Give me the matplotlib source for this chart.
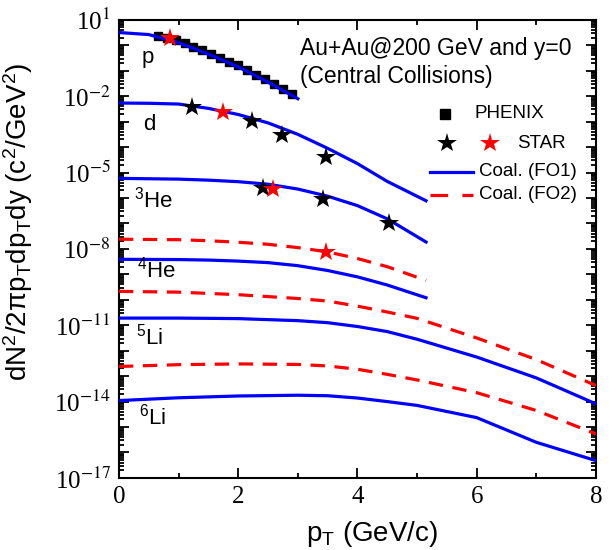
import numpy as np
import matplotlib
matplotlib.use('Agg')
import matplotlib.pyplot as plt
from matplotlib.ticker import LogLocator, NullFormatter

plt.rcParams['font.family'] = ['Liberation Sans', 'DejaVu Sans']
plt.rcParams['mathtext.fontset'] = 'custom'
plt.rcParams['mathtext.rm'] = 'Liberation Sans'
plt.rcParams['mathtext.it'] = 'Liberation Sans:italic'
plt.rcParams['mathtext.default'] = 'rm'

# --- data (log10 of yield) ---
# coalescence FO1 (blue solid)
p_fo1_pt = [0, 0.5, 1.0, 1.5, 2.0, 2.5, 3.0]
p_fo1 = [0.50, 0.42, 0.10, -0.35, -0.85, -1.45, -2.10]

d_fo1_pt = [0, 0.5, 1.0, 1.5, 2.0, 2.5, 3.0, 3.5, 4.0, 4.5, 5.15]
d_fo1 = [-2.27, -2.28, -2.31, -2.48, -2.72, -3.05, -3.50, -4.05, -4.65, -5.35, -6.11]

he3_fo1_pt = [0, 1.0, 1.5, 2.0, 2.5, 3.0, 3.5, 4.0, 4.5, 5.15]
he3_fo1 = [-5.23, -5.26, -5.30, -5.36, -5.46, -5.65, -5.93, -6.30, -6.82, -7.73]

he4_pt = [0, 1.0, 1.5, 2.0, 2.5, 3.0, 3.5, 4.0, 4.5, 5.15]
he4_fo1 = [-8.41, -8.42, -8.44, -8.48, -8.54, -8.66, -8.85, -9.10, -9.42, -9.92]
he4_fo2 = [-7.62, -7.64, -7.68, -7.74, -7.82, -7.95, -8.12, -8.38, -8.70, -9.24]

li_pt = [0, 1.0, 2.0, 3.0, 3.5, 4.0, 4.5, 5.0, 6.0, 7.0, 8.0]
li5_fo1 = [-10.72, -10.72, -10.74, -10.82, -10.90, -11.05, -11.25, -11.55, -12.25, -13.07, -14.09]
li5_fo2 = [-9.67, -9.70, -9.80, -9.95, -10.05, -10.25, -10.48, -10.73, -11.50, -12.35, -13.37]
li6_fo1 = [-13.96, -13.85, -13.78, -13.75, -13.77, -13.86, -14.00, -14.15, -14.63, -15.60, -16.32]
li6_fo2 = [-12.62, -12.55, -12.52, -12.54, -12.60, -12.73, -12.93, -13.15, -13.65, -14.35, -15.27]

# PHENIX protons
phenix_pt = [0.65, 0.80, 0.95, 1.10, 1.25, 1.40, 1.55, 1.70,
             1.85, 2.00, 2.15, 2.30, 2.45, 2.60, 2.75, 2.90]
phenix_p = [0.38, 0.29, 0.19, 0.07, -0.06, -0.20, -0.34, -0.49,
            -0.64, -0.79, -0.97, -1.15, -1.33, -1.52, -1.71, -1.92]

# STAR points
star_black_pt = [1.23, 2.23, 2.73, 3.48, 2.42, 3.42, 4.53]
star_black = [-2.44, -2.96, -3.53, -4.41, -5.59, -6.05, -7.00]
star_red_pt = [0.85, 1.74, 2.59, 3.48]
star_red = [0.30, -2.63, -5.63, -8.12]

ytick_exps = list(range(-17, 2))
ylabel_exps = [1, -2, -5, -8, -11, -14, -17]
xticks = [0, 2, 4, 6, 8]

species = ['p', 'd', '$^3$He', '$^4$He', '$^5$Li', '$^6$Li']
species_pos = [(0.048, 0.917), (0.05, 0.771), (0.032, 0.607), (0.038, 0.454), (0.036, 0.308), (0.042, 0.133)]

BLUE = '#0000ff'
RED = '#ff0000'
LW = 2.3
DASH = (0, (4.5, 3))

fig = plt.figure(figsize=(6.1, 5.5), dpi=100)
ax = fig.add_axes([0.195, 0.131, 0.782, 0.833])

for xs, ys in [(p_fo1_pt, p_fo1), (d_fo1_pt, d_fo1), (he3_fo1_pt, he3_fo1),
               (he4_pt, he4_fo1), (li_pt, li5_fo1), (li_pt, li6_fo1)]:
    ax.plot(xs, 10.0 ** np.array(ys), color=BLUE, lw=LW, zorder=3)
for xs, ys in [(he4_pt, he4_fo2), (li_pt, li5_fo2), (li_pt, li6_fo2)]:
    ax.plot(xs, 10.0 ** np.array(ys), color=RED, lw=LW, ls=DASH, zorder=3)

ax.plot(phenix_pt, 10.0 ** np.array(phenix_p), 's', color='black', ms=5.5, zorder=2)
ax.plot(star_black_pt, 10.0 ** np.array(star_black), '*', color='black', ms=15, mew=0, zorder=4)
ax.plot(star_red_pt, 10.0 ** np.array(star_red), '*', color=RED, ms=15, mew=0, zorder=4)

ax.set_yscale('log')
ax.set_xlim(0, 8)
ax.set_ylim(1e-17, 1e1)

ax.set_yticks(10.0 ** np.array(ytick_exps, dtype=float))
ax.set_yticklabels([('10$^{%d}$' % e) if e in ylabel_exps else '' for e in ytick_exps],
                   fontsize=18, family='Liberation Serif', math_fontfamily='stix')
ax.yaxis.set_minor_locator(LogLocator(base=10, subs=np.arange(2, 10), numticks=100))
ax.yaxis.set_minor_formatter(NullFormatter())
ax.set_xticks(xticks)
ax.set_xticklabels([str(v) for v in xticks], fontsize=18, family='Liberation Serif')
ax.set_xticks([1, 3, 5, 7], minor=True)

ax.tick_params(which='both', direction='in', top=True, right=True, width=1.3)
ax.tick_params(which='major', length=7, pad=6)
ax.tick_params(which='minor', length=3.5)
for s in ax.spines.values():
    s.set_linewidth(1.5)

ax.set_xlabel('p$_T$ (GeV/c)', fontsize=20)
ax.xaxis.set_label_coords(0.53, -0.09)
ax.set_ylabel('dN$^2$/2$\\pi$p$_T$dp$_T$dy (c$^2$/GeV$^2$)', fontsize=20)
ax.yaxis.set_label_coords(-0.175, 0.56)

for lab, (x, y) in zip(species, species_pos):
    ax.text(x, y, lab, transform=ax.transAxes, fontsize=16, va='center', ha='left')

ax.text(0.379, 0.937, 'Au+Au@200 GeV and y=0', transform=ax.transAxes, fontsize=16.5, va='center')
ax.text(0.379, 0.876, '(Central Collisions)', transform=ax.transAxes, fontsize=16.5, va='center')

# legend, drawn by hand
tr = ax.transAxes
ax.plot([0.683], [0.795], 's', color='black', ms=7, transform=tr, clip_on=False)
ax.text(0.746, 0.795, 'PHENIX', transform=tr, fontsize=13.5, va='center')
ax.plot([0.688], [0.731], '*', color='black', ms=15, mew=0, transform=tr)
ax.plot([0.778], [0.731], '*', color=RED, ms=15, mew=0, transform=tr)
ax.text(0.834, 0.731, 'STAR', transform=tr, fontsize=13.5, va='center')
ax.plot([0.652, 0.742], [0.668, 0.668], color=BLUE, lw=LW, transform=tr)
ax.text(0.755, 0.668, 'Coal. (FO1)', transform=tr, fontsize=13.5, va='center')
ax.plot([0.652, 0.742], [0.618, 0.618], color=RED, lw=LW, ls=(0, (5.5, 4.5)), transform=tr)
ax.text(0.755, 0.618, 'Coal. (FO2)', transform=tr, fontsize=13.5, va='center')

fig.savefig('out.png', dpi=100)
